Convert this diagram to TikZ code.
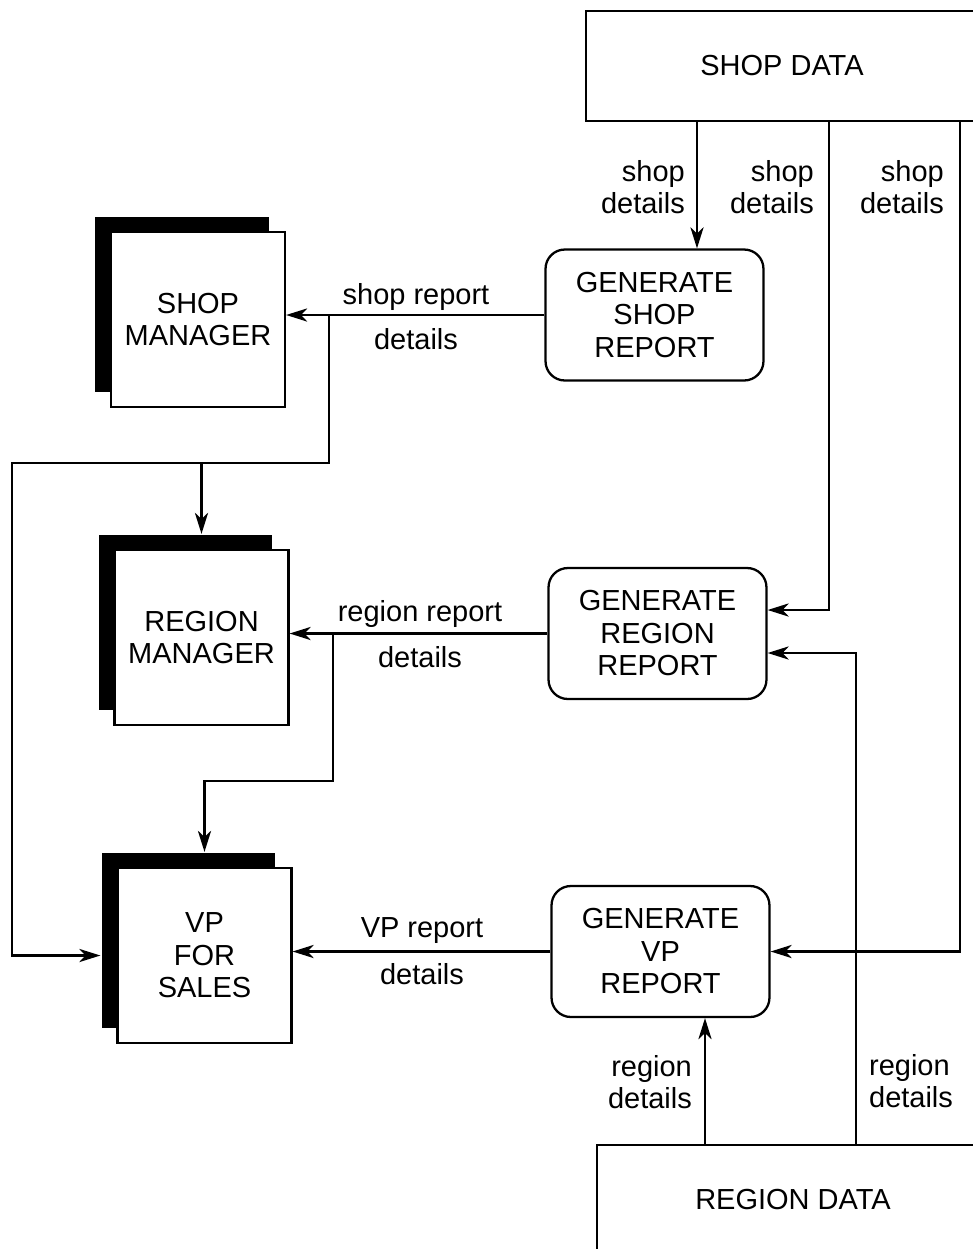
\documentclass[tikz,border=0pt]{standalone}
\usepackage{fontspec}
\setmainfont{Liberation Sans}
\usetikzlibrary{arrows.meta,shadows}

\begin{document}
\begin{tikzpicture}[x=0.02cm,y=-0.02cm,line width=1.3pt,
    every node/.style={font=\fontsize{16.5}{18.5}\selectfont},
    flow/.style={-{Stealth[length=12pt,width=7.5pt,inset=3.5pt]}},
    process/.style={draw,rounded corners=11pt,align=center,minimum width=4.36cm,minimum height=2.62cm},
    entity/.style={draw,fill=white,align=center,minimum width=3.48cm,minimum height=3.5cm,
        drop shadow={shadow xshift=-0.32cm,shadow yshift=0.3cm,fill=black,opacity=1}},
    store/.style={inner sep=0pt,minimum width=7.8cm,minimum height=2.16cm},
    lbl/.style={inner sep=0pt,align=center}]
\useasboundingbox (0,0) rectangle (973,1249);
% data stores
\node[store] (shopdata) at (782,66) {SHOP DATA};
\draw (shopdata.north east) -- (shopdata.north west) -- (shopdata.south west) -- (shopdata.south east);
\node[store] (regiondata) at (793,1200) {REGION DATA};
\draw (regiondata.north east) -- (regiondata.north west) -- (regiondata.south west);
% processes
\node[process] (gsr) at (654.5,315) {GENERATE\\SHOP\\REPORT};
\node[process] (grr) at (657.5,633.5) {GENERATE\\REGION\\REPORT};
\node[process] (gvr) at (660.5,951.5) {GENERATE\\VP\\REPORT};
% people
\node[entity] (sm) at (198,319.5) {SHOP\\MANAGER};
\node[entity] (rm) at (201.5,637.5) {REGION\\MANAGER};
\node[entity] (vp) at (204.5,955.5) {VP\\FOR\\SALES};
\coordinate (xa) at (697,0);
\coordinate (xb) at (829,0);
\coordinate (xc) at (960,0);
\coordinate (xd) at (856,0);
\coordinate (xe) at (705,0);
\coordinate (t1) at (329,0);
\coordinate (t2) at (333,0);
\coordinate (turn1) at (329,463);
\coordinate (edge1) at (12,463);
\coordinate (turn2) at (333,781);
\draw[flow] (shopdata.south -| xa) -- (gsr.north -| xa);
\draw[flow] (shopdata.south -| xb) |- ([yshift=0.47cm]grr.east);
\draw[flow] (shopdata.south -| xc) |- (gvr.east);
\draw[flow] (regiondata.north -| xd) |- ([yshift=-0.39cm]grr.east);
\draw[flow] (regiondata.north -| xe) -- (gvr.south -| xe);
\draw[flow] (gsr.west) -- (gsr.west -| sm.east);
\draw[flow] (grr.west) -- (grr.west -| rm.east);
\draw[flow] (gvr.west) -- (gvr.west -| vp.east);
\draw[flow] (gsr.west -| t1) -- (turn1) -- (edge1) |- ([xshift=-0.32cm]vp.west);
\draw[flow] (turn1 -| rm.north) -- ([yshift=0.3cm]rm.north);
\draw[flow] (grr.west -| t2) -- (turn2) -| ([yshift=0.3cm]vp.north);
% labels
\node[lbl,align=right,anchor=east] (sd1) at (686,187) {shop\\details};
\node[lbl,align=right,anchor=east] (sd2) at (815,187) {shop\\details};
\node[lbl,align=right,anchor=east] (sd3) at (945,187) {shop\\details};
\node[lbl,align=right,anchor=east] (rd1) at (693,1082) {region\\details};
\node[lbl,align=left,anchor=west] (rd2) at (868,1081) {region\\details};
\node[lbl] (srep) at (416,297) {shop report};
\node[lbl] (sdet) at (416,339) {details};
\node[lbl] (rrep) at (420,614) {region report};
\node[lbl] (rdet) at (420,657) {details};
\node[lbl] (vrep) at (422,931) {VP report};
\node[lbl] (vdet) at (422,974) {details};
\end{tikzpicture}
\end{document}
